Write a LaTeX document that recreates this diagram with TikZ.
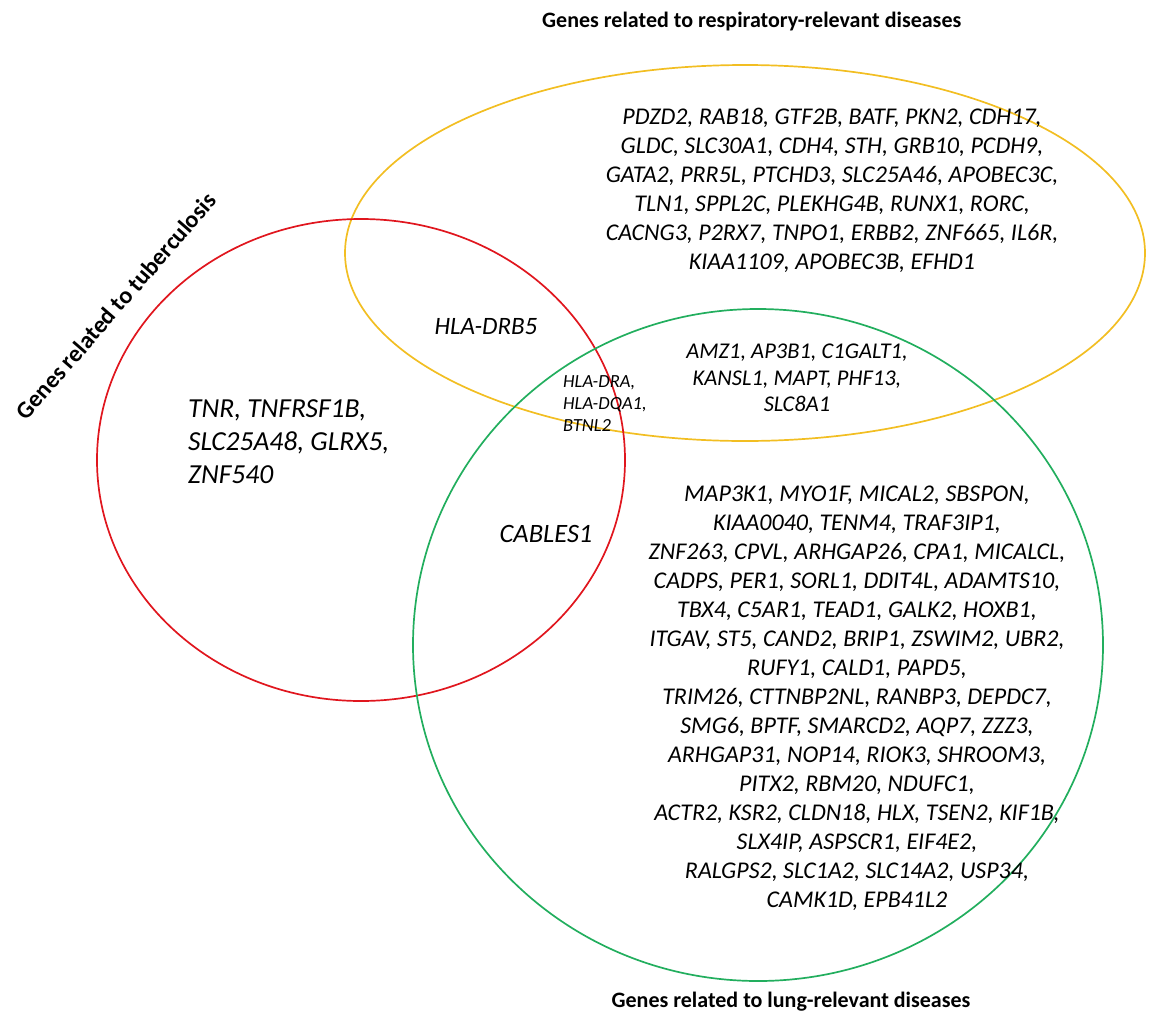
\documentclass[tikz,border=0pt]{standalone}
\usepackage{fontspec}
\setmainfont{Carlito}
\usetikzlibrary{positioning}
\definecolor{tbred}{HTML}{E0161E}
\definecolor{respyellow}{HTML}{F2BE22}
\definecolor{lunggreen}{HTML}{22AE5E}
\tikzset{
  setline/.style={line width=1.7pt},
  genes/.style={font=\itshape\fontsize{24}{29}\selectfont, align=center, inner sep=0pt},
  smallgenes/.style={font=\itshape\fontsize{18.5}{22}\selectfont, align=left, inner sep=0pt},
  settitle/.style={font=\bfseries\fontsize{22}{26}\selectfont, inner sep=0pt},
}

\begin{document}
\begin{tikzpicture}[x=1pt,y=-1pt]
  \useasboundingbox (0,0) rectangle (1149,1015);
  % the three sets
  \draw[setline, respyellow] (745,253) ellipse [x radius=400pt, y radius=188pt];
  \draw[setline, tbred] (361,460) ellipse [x radius=264pt, y radius=241pt];
  \draw[setline, lunggreen] (758,645) ellipse [x radius=345pt, y radius=336pt];
  % set titles
  \node[settitle, anchor=west] (resptitle) at (542,22) {Genes related to respiratory-relevant diseases};
  \node[settitle] (lungtitle) at (791,1002) {Genes related to lung-relevant diseases};
  \node[settitle, rotate=49, font=\bfseries\fontsize{24}{28}\selectfont] (tbtitle) at (116,306) {Genes related to tuberculosis};
  % respiratory only
  \node[genes] (resp) at (832,190)
    {PDZD2, RAB18, GTF2B, BATF, PKN2, CDH17,\\
     GLDC, SLC30A1, CDH4, STH, GRB10, PCDH9,\\
     GATA2, PRR5L, PTCHD3, SLC25A46, APOBEC3C,\\
     TLN1, SPPL2C, PLEKHG4B, RUNX1, RORC,\\
     CACNG3, P2RX7, TNPO1, ERBB2, ZNF665, IL6R,\\
     KIAA1109, APOBEC3B, EFHD1};
  % tuberculosis only
  \node[genes, align=left, anchor=west, font=\itshape\fontsize{27.5}{33}\selectfont] (tb) at (188,442)
    {TNR, TNFRSF1B,\\SLC25A48, GLRX5,\\ZNF540};
  % pairwise overlaps
  \node[genes, font=\itshape\fontsize{25}{30}\selectfont] (tbresp) at (486,327) {HLA-DRB5};
  \node[genes, font=\itshape\fontsize{26.5}{30}\selectfont] (tblung) at (546,534) {CABLES1};
  \node[genes, font=\itshape\fontsize{22.5}{26.5}\selectfont] (resplung) at (797,378)
    {AMZ1, AP3B1, C1GALT1,\\KANSL1, MAPT, PHF13,\\SLC8A1};
  % all three
  \node[smallgenes, anchor=west] (allthree) at (563,404) {HLA-DRA,\\HLA-DQA1,\\BTNL2};
  % lung only
  \node[genes] (lung) at (857,698)
    {MAP3K1, MYO1F, MICAL2, SBSPON,\\
     KIAA0040, TENM4, TRAF3IP1,\\
     ZNF263, CPVL, ARHGAP26, CPA1, MICALCL,\\
     CADPS, PER1, SORL1, DDIT4L, ADAMTS10,\\
     TBX4, C5AR1, TEAD1, GALK2, HOXB1,\\
     ITGAV, ST5, CAND2, BRIP1, ZSWIM2, UBR2,\\
     RUFY1, CALD1, PAPD5,\\
     TRIM26, CTTNBP2NL, RANBP3, DEPDC7,\\
     SMG6, BPTF, SMARCD2, AQP7, ZZZ3,\\
     ARHGAP31, NOP14, RIOK3, SHROOM3,\\
     PITX2, RBM20, NDUFC1,\\
     ACTR2, KSR2, CLDN18, HLX, TSEN2, KIF1B,\\
     SLX4IP, ASPSCR1, EIF4E2,\\
     RALGPS2, SLC1A2, SLC14A2, USP34,\\
     CAMK1D, EPB41L2};
\end{tikzpicture}
\end{document}
